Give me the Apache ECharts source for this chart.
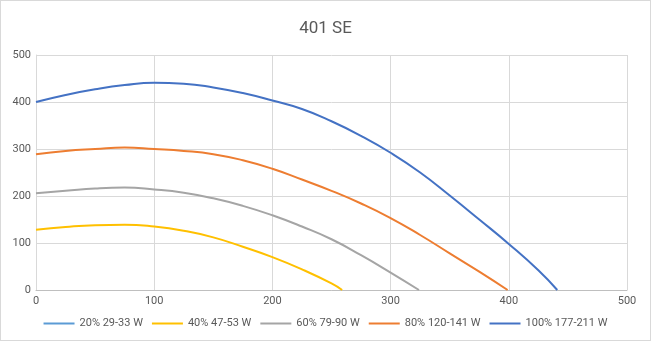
<!DOCTYPE html>
<html>
<head>
<meta charset="utf-8">
<script src="https://cdn.jsdelivr.net/npm/echarts@6/dist/echarts.min.js"></script>
<style>
  html, body { margin: 0; padding: 0; background: #fff; }
  #chart { width: 651px; height: 341px; box-sizing: border-box; border: 1px solid #d9d9d9; }
</style>
</head>
<body>
<div id="chart"></div>
<script>
// Fan curves: airflow (x) vs pressure (y) per speed step
const seriesNames = ['20% 29-33 W', '40% 47-53 W', '60% 79-90 W', '80% 120-141 W', '100% 177-211 W'];
const seriesColors = ['#5B9BD5', '#FFC000', '#A5A5A5', '#ED7D31', '#4472C4'];

const flow20 = [];
const pres20 = [];

const flow40 = [0, 25, 50, 75, 100, 125, 150, 175, 200, 225, 250, 259];
const pres40 = [128, 134, 138, 139, 135, 126, 112, 92, 70, 44, 14, 0];

const flow60 = [0, 25, 50, 75, 100, 125, 150, 175, 200, 225, 250, 275, 300, 324];
const pres60 = [206, 211, 216, 218, 214, 207, 195, 179, 159, 135, 108, 74, 37, 0];

const flow80 = [0, 25, 50, 75, 100, 125, 150, 175, 200, 225, 250, 275, 300, 325, 350, 375, 399];
const pres80 = [289, 296, 300, 303, 300, 296, 289, 276, 258, 235, 211, 184, 153, 117, 78, 39, 0];

const flow100 = [0, 25, 50, 75, 100, 125, 150, 175, 200, 225, 250, 275, 300, 325, 350, 375, 400, 425, 441];
const pres100 = [400, 415, 427, 436, 441, 439, 431, 419, 403, 385, 359, 328, 292, 250, 201, 150, 98, 42, 0];

const xTicks = { min: 0, max: 500, interval: 100 };
const yTicks = { min: 0, max: 500, interval: 100 };

const flows = [flow20, flow40, flow60, flow80, flow100];
const pressures = [pres20, pres40, pres60, pres80, pres100];

const txt = '#595959';
const font = 'Roboto';

const chart = echarts.init(document.getElementById('chart'), null, { renderer: 'canvas' });
chart.setOption({
  animation: false,
  color: seriesColors,
  title: {
    text: '401 SE',
    left: 'center',
    top: 14,
    textStyle: { color: txt, fontSize: 17, fontWeight: 'normal', fontFamily: font }
  },
  legend: {
    bottom: 6,
    left: 'center',
    icon: 'rect',
    itemWidth: 31,
    itemHeight: 2,
    itemGap: 9,
    textStyle: { color: txt, fontSize: 11, fontFamily: font },
    data: seriesNames
  },
  grid: { left: 35, right: 23, top: 54, bottom: 50, containLabel: false },
  xAxis: {
    type: 'value',
    min: xTicks.min, max: xTicks.max, interval: xTicks.interval,
    axisLine: { show: true, lineStyle: { color: '#bfbfbf' } },
    axisTick: { show: false },
    splitLine: { show: true, lineStyle: { color: '#d9d9d9' } },
    axisLabel: { color: txt, fontSize: 11, fontFamily: font, margin: 6 }
  },
  yAxis: {
    type: 'value',
    min: yTicks.min, max: yTicks.max, interval: yTicks.interval,
    axisLine: { show: true, lineStyle: { color: '#d9d9d9' } },
    axisTick: { show: false },
    splitLine: { show: true, lineStyle: { color: '#d9d9d9' } },
    axisLabel: { color: txt, fontSize: 11, fontFamily: font, margin: 5 }
  },
  series: seriesNames.map((name, i) => ({
    name,
    type: 'line',
    smooth: 0.5,
    symbol: 'none',
    lineStyle: { width: 2, color: seriesColors[i] },
    data: flows[i].map((x, j) => [x, pressures[i][j]])
  }))
});
</script>
</body>
</html>
